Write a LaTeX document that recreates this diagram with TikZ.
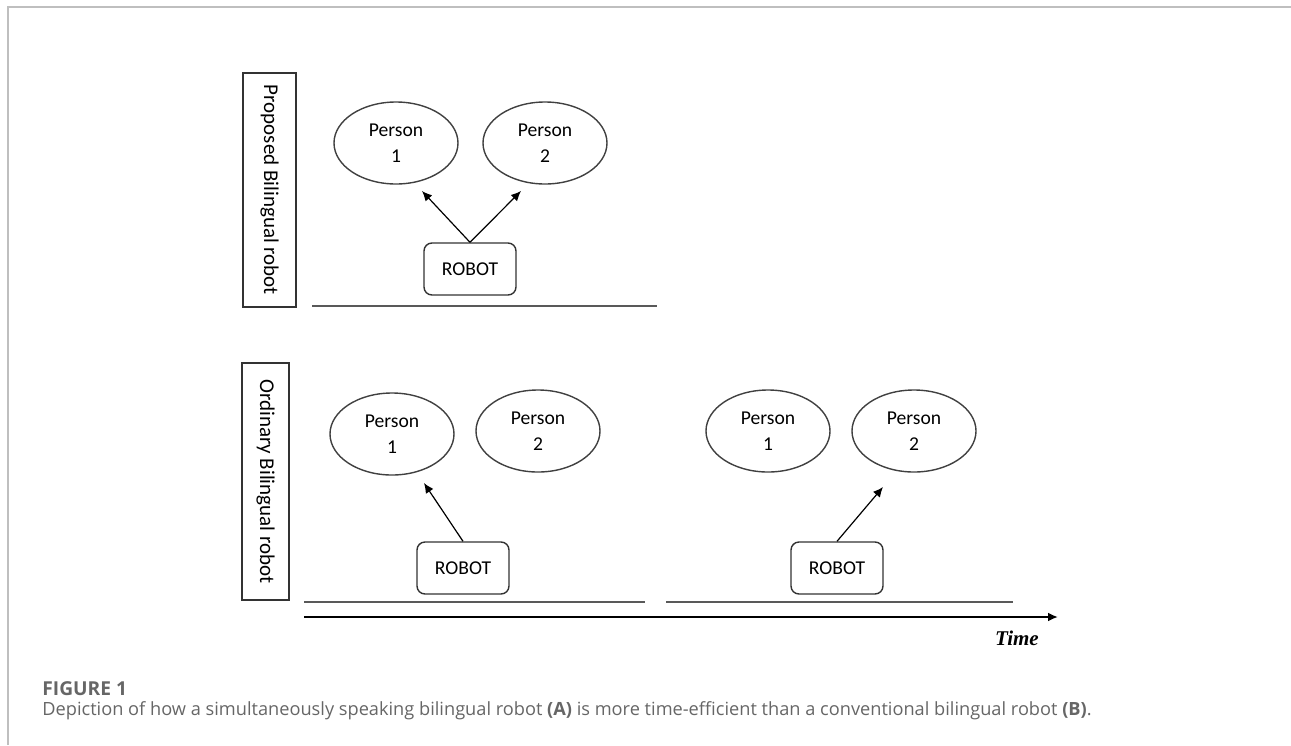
\documentclass[tikz,border=0pt]{standalone}
\usepackage{fontspec}
\setmainfont{Carlito}
\newfontfamily\capfont{Open Sans}
\newfontfamily\timefont{Liberation Serif}
\usetikzlibrary{shapes.geometric,arrows.meta}

\begin{document}
\begin{tikzpicture}[x=0.5pt, y=-0.5pt,
	person/.style={draw=black!75, ellipse, line width=0.7pt, minimum width=62pt,
		minimum height=41pt, inner sep=0pt, align=center,
		font=\fontsize{9.8}{13}\selectfont},
	robot/.style={draw=black!80, rounded corners=4pt, line width=0.7pt,
		minimum width=46pt, minimum height=26pt, font=\fontsize{9.8}{11}\selectfont},
	sidebox/.style={draw=black!80, line width=0.8pt, rotate=-90, inner sep=0pt,
		font=\fontsize{10.5}{12}\selectfont},
	talk/.style={-{Latex[length=5pt,width=4.5pt]}, line width=0.6pt},
	floor/.style={draw=black!65, line width=1pt}]
	\useasboundingbox (0,0) rectangle (1291,745);
	\draw[black!25, line width=0.8pt] (8,745) -- (8,7) -- (1291,7);

	% proposed robot
	\node[sidebox, minimum width=117pt, minimum height=26.5pt] (sa) at (269.5,190) {Proposed Bilingual robot};
	\node[person] (a1) at (396,143) {Person\\1};
	\node[person] (a2) at (545,143) {Person\\2};
	\node[robot] (ra) at (470,269) {ROBOT};
	\coordinate (ta1) at (422,191);
	\coordinate (ta2) at (521,191);
	\draw[talk] (ra.north) to (ta1);
	\draw[talk] (ra.north) to (ta2);
	\draw[floor] (312,306) -- (657,306);

	% ordinary robot
	\node[sidebox, minimum width=118.5pt, minimum height=23.5pt] (sb) at (265.5,481.5) {Ordinary Bilingual robot};
	\node[person] (b1) at (392,434) {Person\\1};
	\node[person] (b2) at (538,431) {Person\\2};
	\node[robot] (rb) at (463,568) {ROBOT};
	\coordinate (tb1) at (424,483);
	\draw[talk] (rb.north) to (tb1);
	\node[person] (c1) at (768,431) {Person\\1};
	\node[person] (c2) at (914,431) {Person\\2};
	\node[robot] (rc) at (837,568) {ROBOT};
	\coordinate (tc2) at (883,487);
	\draw[talk] (rc.north) to (tc2);
	\draw[floor] (304,602) -- (645,602);
	\draw[floor] (666,602) -- (1013,602);

	% time axis
	\draw[-{Latex[length=5pt,width=4.5pt]}, line width=1.4pt] (304,617) -- (1058,617);
	\node[font=\timefont\bfseries\itshape\fontsize{10.5}{12}\selectfont] (time) at (1017,638) {Time};

	% caption
	\node[anchor=base west, inner sep=0pt, text=black!60, font=\capfont\bfseries\fontsize{9.6}{11}\selectfont] (fig) at (42,695) {FIGURE 1};
	\node[anchor=base west, inner sep=0pt, text=black!60, font=\capfont\fontsize{9.1}{11}\selectfont] (cap) at (42,715) {Depiction of how a simultaneously speaking bilingual robot \textbf{(A)} is more time-efficient than a conventional bilingual robot \textbf{(B)}.};
\end{tikzpicture}
\end{document}
